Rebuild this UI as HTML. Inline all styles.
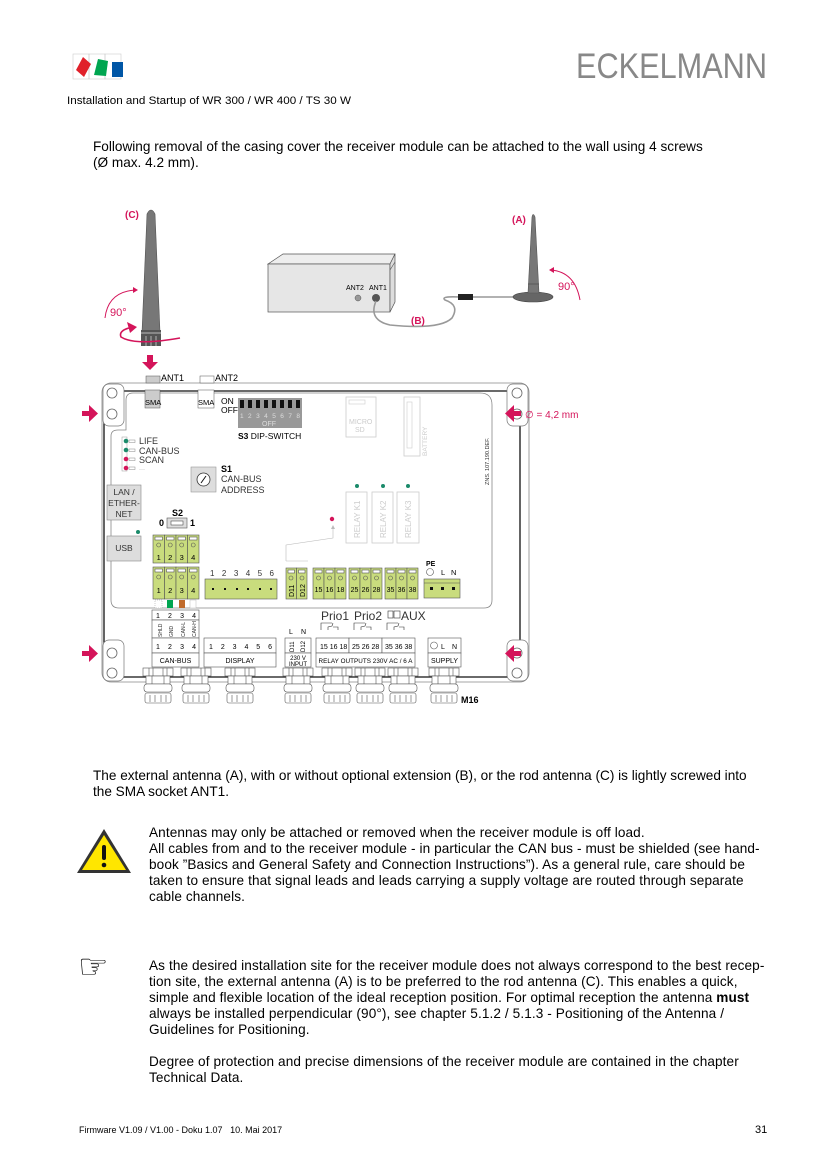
<!DOCTYPE html>
<html><head><meta charset="utf-8"><style>
html,body{margin:0;padding:0;background:#fff}
body{width:827px;height:1169px;position:relative;overflow:hidden;font-family:"Liberation Sans",Arial,sans-serif;color:#000}
.t{position:absolute;font-size:13.6px;line-height:16px;white-space:nowrap}
svg{position:absolute;left:0;top:0}
</style></head><body>
<svg width="827" height="1169" viewBox="0 0 827 1169" font-family="Liberation Sans, Arial, sans-serif">
<defs>
<g id="gl" fill="#fff" stroke="#555" stroke-width="0.6"><rect x="-15" y="668" width="30" height="8"/><rect x="-12" y="676" width="24" height="8"/><rect x="-14" y="684" width="28" height="8" rx="3"/><rect x="-13" y="693" width="26" height="10" rx="2"/>
<path d="M-9,668 v8 M-5,668 v8 M5,668 v8 M9,668 v8 M-6,676 v8 M6,676 v8 M-8,695 v7 M-3,695 v7 M3,695 v7 M8,695 v7" fill="none"/></g>
</defs>
<!-- logo -->
<rect x="73" y="54" width="16" height="25" fill="none" stroke="#ccc" stroke-width="0.6"/>
<rect x="89" y="54" width="16" height="25" fill="none" stroke="#ccc" stroke-width="0.6"/>
<rect x="105" y="54" width="16" height="25" fill="none" stroke="#ccc" stroke-width="0.6"/>
<polygon points="83,57 91,64 84,77 76,70" fill="#e0202a"/>
<polygon points="98,59 108,61 106,76 94,75" fill="#00a550"/>
<rect x="112" y="62" width="11" height="15" fill="#0056a6"/>
<text x="576" y="78" font-size="35" fill="#888" textLength="191" lengthAdjust="spacingAndGlyphs">ECKELMANN</text>
<text x="67" y="104" font-size="11" textLength="284" lengthAdjust="spacingAndGlyphs">Installation and Startup of WR 300 / WR 400 / TS 30 W</text>

<!-- rod antenna C -->
<path d="M147,214 Q151,206 155,214 L160,332 L142,332 Z" fill="#777" stroke="#555" stroke-width="0.6"/>
<rect x="141" y="330" width="20" height="16" fill="#555"/>
<g stroke="#ddd" stroke-width="0.7"><line x1="141" y1="333" x2="161" y2="333"/><line x1="146" y1="336" x2="146" y2="346"/><line x1="151" y1="336" x2="151" y2="346"/><line x1="156" y1="336" x2="156" y2="346"/></g>
<text x="125" y="218" font-size="10" font-weight="bold" fill="#d4145a">(C)</text>
<path d="M105,318 Q108,292 135,290" fill="none" stroke="#d4145a" stroke-width="1"/>
<polygon points="138,290 133,287 133,293" fill="#d4145a"/>
<text x="110" y="316" font-size="11" fill="#d4145a">90°</text>
<path d="M133,327 Q118,330 121,337 Q135,346 180,338" fill="none" stroke="#d4145a" stroke-width="1.6"/>
<polygon points="137,327 127,322 130,333" fill="#d4145a"/>
<rect x="147" y="355" width="6" height="8" fill="#d4145a"/>
<polygon points="142,362 158,362 150,370" fill="#d4145a"/>

<!-- box -->
<polygon points="268,264 283,254 395,254 390,264" fill="#eee" stroke="#555" stroke-width="0.7"/>
<rect x="268" y="264" width="122" height="48" fill="#e6e6e6" stroke="#555" stroke-width="0.7"/>
<polygon points="390,264 395,254 395,302 390,312" fill="#ddd" stroke="#555" stroke-width="0.7"/>
<line x1="390" y1="270" x2="395" y2="262" stroke="#555" stroke-width="0.6"/>
<text x="346" y="290" font-size="7">ANT2</text><text x="369" y="290" font-size="7">ANT1</text>
<circle cx="358" cy="298" r="3" fill="#999" stroke="#555" stroke-width="0.5"/>
<circle cx="376" cy="298" r="4" fill="#555"/>
<path d="M376,301 Q368,320 390,325 Q440,330 452,318 Q460,305 445,300 Q440,296 460,297" fill="none" stroke="#999" stroke-width="1.6"/>
<rect x="458" y="294" width="15" height="6" fill="#222"/>
<line x1="473" y1="297" x2="514" y2="297" stroke="#999" stroke-width="1.6"/>
<text x="411" y="324" font-size="10" font-weight="bold" fill="#d4145a">(B)</text>
<!-- antenna A -->
<ellipse cx="533" cy="297" rx="20" ry="5" fill="#666" stroke="#444" stroke-width="0.6"/>
<path d="M532,217 Q533,212 535,217 L539,293 L528,293 Z" fill="#777" stroke="#555" stroke-width="0.6"/>
<line x1="528" y1="284" x2="539" y2="284" stroke="#444" stroke-width="0.6"/>
<text x="512" y="223" font-size="10" font-weight="bold" fill="#d4145a">(A)</text>
<path d="M551,270 Q575,272 580,300" fill="none" stroke="#d4145a" stroke-width="1"/>
<polygon points="549,270 554,267 554,273" fill="#d4145a"/>
<text x="558" y="290" font-size="11" fill="#d4145a">90°</text>

<!-- housing -->
<rect x="102" y="383" width="427" height="299" rx="9" fill="#fff" stroke="#888" stroke-width="0.8"/>
<path d="M125,391 L506,391 Q520,391 520,405 L520,664 Q520,677 506,677 L117,677 Q104,677 104,664 L104,405 Q104,391 118,391 Z" fill="none" stroke="#111" stroke-width="1.3"/>
<g fill="#fff" stroke="#777" stroke-width="0.7">
<rect x="103" y="384" width="21" height="42" rx="6"/><rect x="507" y="384" width="21" height="42" rx="6"/>
<rect x="103" y="640" width="21" height="41" rx="6"/><rect x="507" y="640" width="21" height="41" rx="6"/>
</g>
<g fill="none" stroke="#666" stroke-width="0.8">
<circle cx="112" cy="393" r="5"/><circle cx="112" cy="414" r="5"/><circle cx="517" cy="393" r="5"/><circle cx="517" cy="414" r="5"/>
<circle cx="112" cy="653" r="5"/><circle cx="112" cy="673" r="5"/><circle cx="517" cy="653" r="5"/><circle cx="517" cy="673" r="5"/>
</g>
<!-- pcb -->
<path d="M133,393 L480,393 Q492,393 492,405 L492,600 Q492,608 484,608 L119,608 Q111,608 111,600 L111,436 Q111,430 118,430 L126,430 L126,400 Q126,393 133,393 Z" fill="none" stroke="#888" stroke-width="0.8"/>
<!-- pink arrows -->
<g fill="#d4145a">
<rect x="82" y="411" width="8" height="5"/><polygon points="89,405 98,413.5 89,422"/>
<rect x="82" y="651" width="8" height="5"/><polygon points="89,645 98,653.5 89,662"/>
<rect x="513" y="411" width="8" height="5"/><polygon points="514,405 505,413.5 514,422"/>
<rect x="513" y="651" width="8" height="5"/><polygon points="514,645 505,653.5 514,662"/>
</g>
<text x="525" y="418" font-size="10" fill="#d4145a">∅ = 4,2 mm</text>

<!-- ANT1/ANT2 -->
<rect x="146" y="376" width="14" height="7" fill="#ccc" stroke="#555" stroke-width="0.5"/>
<text x="161" y="381" font-size="9">ANT1</text>
<rect x="200" y="376" width="14" height="7" fill="#fff" stroke="#555" stroke-width="0.5"/>
<text x="215" y="381" font-size="9">ANT2</text>
<rect x="145" y="390" width="15" height="18" fill="#ccc" stroke="#555" stroke-width="0.5"/>
<text x="145" y="405" font-size="7.5">SMA</text>
<rect x="198" y="390" width="16" height="18" fill="#fff" stroke="#555" stroke-width="0.5"/>
<text x="198" y="405" font-size="7.5">SMA</text>
<text x="221" y="404" font-size="8.5">ON</text><text x="221" y="413" font-size="8.5">OFF</text>
<rect x="238" y="398" width="64" height="30" fill="#999"/>
<g fill="#111"><rect x="240" y="400" width="4" height="8"/><rect x="248" y="400" width="4" height="8"/><rect x="256" y="400" width="4" height="8"/><rect x="264" y="400" width="4" height="8"/><rect x="272" y="400" width="4" height="8"/><rect x="280" y="400" width="4" height="8"/><rect x="288" y="400" width="4" height="8"/><rect x="296" y="400" width="4" height="8"/></g>
<text x="240" y="418" font-size="6.5" fill="#ddd" textLength="60">1 2 3 4 5 6 7 8</text>
<text x="262" y="426" font-size="7" fill="#ddd">OFF</text>
<text x="238" y="439" font-size="8.5"><tspan font-weight="bold">S3</tspan> DIP-SWITCH</text>
<rect x="346" y="397" width="30" height="40" fill="#fff" stroke="#ccc" stroke-width="0.8"/>
<rect x="349" y="400" width="16" height="4" fill="none" stroke="#ccc" stroke-width="0.6"/>
<text x="349" y="424" font-size="7" fill="#ccc">MICRO</text><text x="355" y="432" font-size="7" fill="#ccc">SD</text>
<rect x="404" y="397" width="16" height="59" fill="#fff" stroke="#ccc" stroke-width="0.8"/>
<rect x="407" y="402" width="5" height="46" fill="none" stroke="#ccc" stroke-width="0.6"/>
<text transform="translate(427,456) rotate(-90)" font-size="6.5" fill="#ccc">BATTERY</text>
<text transform="translate(489,485) rotate(-90)" font-size="5.5" fill="#333">ZNS. 107.190.DEF.</text>

<!-- LEDs -->
<rect x="122" y="437" width="5" height="34" fill="none" stroke="#999" stroke-width="0.5"/>
<circle cx="126" cy="441" r="2.3" fill="#1a8a6a"/><circle cx="126" cy="450" r="2.3" fill="#1a8a6a"/>
<circle cx="126" cy="459" r="2.3" fill="#d4145a"/><circle cx="126" cy="468" r="2.3" fill="#d4145a"/>
<g fill="none" stroke="#888" stroke-width="0.5"><rect x="129" y="440" width="6" height="2.5"/><rect x="129" y="449" width="6" height="2.5"/><rect x="129" y="458" width="6" height="2.5"/><rect x="129" y="467" width="6" height="2.5"/></g>
<text x="139" y="444" font-size="9" fill="#333">LIFE</text>
<text x="139" y="454" font-size="9" fill="#333">CAN-BUS</text>
<text x="139" y="463" font-size="9" fill="#333">SCAN</text>
<text x="139" y="471" font-size="6" fill="#ccc">---</text>
<!-- S1 -->
<rect x="191" y="467" width="25" height="25" fill="#ddd" stroke="#999" stroke-width="0.6"/>
<circle cx="203.5" cy="479.5" r="6.5" fill="#fff" stroke="#333" stroke-width="0.8"/>
<line x1="201" y1="483" x2="206" y2="476" stroke="#111" stroke-width="1"/>
<text x="221" y="472" font-size="9" font-weight="bold">S1</text>
<text x="221" y="482" font-size="9" fill="#333">CAN-BUS</text>
<text x="221" y="493" font-size="9" fill="#333">ADDRESS</text>
<!-- LAN/USB -->
<rect x="107" y="485" width="34" height="35" fill="#ddd" stroke="#888" stroke-width="0.6"/>
<text x="124" y="495" font-size="8.5" text-anchor="middle" fill="#333">LAN /</text>
<text x="124" y="506" font-size="8.5" text-anchor="middle" fill="#333">ETHER-</text>
<text x="124" y="517" font-size="8.5" text-anchor="middle" fill="#333">NET</text>
<rect x="107" y="536" width="34" height="25" fill="#ddd" stroke="#888" stroke-width="0.6"/>
<text x="124" y="551" font-size="8.5" text-anchor="middle" fill="#333">USB</text>
<circle cx="138" cy="532" r="2" fill="#1a8a6a"/>
<!-- S2 -->
<text x="172" y="516" font-size="9" font-weight="bold">S2</text>
<text x="159" y="526" font-size="9" font-weight="bold">0</text>
<rect x="167" y="518" width="20" height="10" fill="#ddd" stroke="#555" stroke-width="0.6"/>
<rect x="171" y="521" width="12" height="4" fill="#fff" stroke="#333" stroke-width="0.5"/>
<text x="190" y="526" font-size="9" font-weight="bold">1</text>

<!-- terminal blocks -->
<g stroke="#555" stroke-width="0.6">
<g fill="#c9dc7d">
<rect x="153" y="535" width="11.5" height="28"/><rect x="164.5" y="535" width="11.5" height="28"/><rect x="176" y="535" width="11.5" height="28"/><rect x="187.5" y="535" width="11.5" height="28"/>
<rect x="153" y="567" width="11.5" height="32"/><rect x="164.5" y="567" width="11.5" height="32"/><rect x="176" y="567" width="11.5" height="32"/><rect x="187.5" y="567" width="11.5" height="32"/>
<rect x="286" y="568" width="10.5" height="31"/><rect x="296.5" y="568" width="10.5" height="31"/>
<rect x="313" y="568" width="11" height="31"/><rect x="324" y="568" width="11" height="31"/><rect x="335" y="568" width="11" height="31"/>
<rect x="349" y="568" width="11" height="31"/><rect x="360" y="568" width="11" height="31"/><rect x="371" y="568" width="11" height="31"/>
<rect x="385" y="568" width="11" height="31"/><rect x="396" y="568" width="11" height="31"/><rect x="407" y="568" width="11" height="31"/>
<rect x="205" y="579" width="72" height="20"/>
<rect x="424" y="579" width="36" height="19"/>
</g>
<g fill="#fff">
<rect x="155" y="537" width="7.5" height="3"/><rect x="166.5" y="537" width="7.5" height="3"/><rect x="178" y="537" width="7.5" height="3"/><rect x="189.5" y="537" width="7.5" height="3"/>
<rect x="155" y="569" width="7.5" height="3"/><rect x="166.5" y="569" width="7.5" height="3"/><rect x="178" y="569" width="7.5" height="3"/><rect x="189.5" y="569" width="7.5" height="3"/>
<rect x="288" y="570" width="6.5" height="3"/><rect x="298.5" y="570" width="6.5" height="3"/>
<rect x="315" y="570" width="7" height="3"/><rect x="326" y="570" width="7" height="3"/><rect x="337" y="570" width="7" height="3"/>
<rect x="351" y="570" width="7" height="3"/><rect x="362" y="570" width="7" height="3"/><rect x="373" y="570" width="7" height="3"/>
<rect x="387" y="570" width="7" height="3"/><rect x="398" y="570" width="7" height="3"/><rect x="409" y="570" width="7" height="3"/>
</g>
<g fill="none">
<circle cx="158.7" cy="545" r="2"/><circle cx="170.2" cy="545" r="2"/><circle cx="181.7" cy="545" r="2"/><circle cx="193.2" cy="545" r="2"/>
<circle cx="158.7" cy="577" r="2"/><circle cx="170.2" cy="577" r="2"/><circle cx="181.7" cy="577" r="2"/><circle cx="193.2" cy="577" r="2"/>
<circle cx="291" cy="578" r="2"/><circle cx="302" cy="578" r="2"/>
<circle cx="318.5" cy="578" r="2"/><circle cx="329.5" cy="578" r="2"/><circle cx="340.5" cy="578" r="2"/>
<circle cx="354.5" cy="578" r="2"/><circle cx="365.5" cy="578" r="2"/><circle cx="376.5" cy="578" r="2"/>
<circle cx="390.5" cy="578" r="2"/><circle cx="401.5" cy="578" r="2"/><circle cx="412.5" cy="578" r="2"/>
</g>
</g>
<g font-size="7.5" text-anchor="middle">
<text x="158.7" y="560">1</text><text x="170.2" y="560">2</text><text x="181.7" y="560">3</text><text x="193.2" y="560">4</text>
<text x="158.7" y="593">1</text><text x="170.2" y="593">2</text><text x="181.7" y="593">3</text><text x="193.2" y="593">4</text>
<text x="318.5" y="592" font-size="7">15</text><text x="329.5" y="592" font-size="7">16</text><text x="340.5" y="592" font-size="7">18</text>
<text x="354.5" y="592" font-size="7">25</text><text x="365.5" y="592" font-size="7">26</text><text x="376.5" y="592" font-size="7">28</text>
<text x="390.5" y="592" font-size="7">35</text><text x="401.5" y="592" font-size="7">36</text><text x="412.5" y="592" font-size="7">38</text>
</g>
<text transform="translate(294,597) rotate(-90)" font-size="7">D11</text>
<text transform="translate(305,597) rotate(-90)" font-size="7">D12</text>
<text x="210" y="576" font-size="8" fill="#333" textLength="64">1  2  3  4  5  6</text>
<g fill="#111"><rect x="212" y="588" width="2" height="2"/><rect x="224" y="588" width="2" height="2"/><rect x="236" y="588" width="2" height="2"/><rect x="247" y="588" width="2" height="2"/><rect x="259" y="588" width="2" height="2"/><rect x="270" y="588" width="2" height="2"/>
<rect x="430" y="587" width="3" height="3"/><rect x="441" y="587" width="3" height="3"/><rect x="452" y="587" width="3" height="3"/></g>
<line x1="424" y1="583" x2="460" y2="583" stroke="#555" stroke-width="0.5"/>
<text x="426" y="566" font-size="7" font-weight="bold">PE</text>
<circle cx="430" cy="572" r="3.5" fill="none" stroke="#555" stroke-width="0.6"/>
<text x="441" y="575" font-size="7.5">L</text><text x="451" y="575" font-size="7.5">N</text>
<!-- relays -->
<g fill="#fff" stroke="#ccc" stroke-width="0.8"><rect x="346" y="492" width="21" height="51"/><rect x="372" y="492" width="21" height="51"/><rect x="397" y="492" width="22" height="51"/></g>
<g font-size="8" fill="#ccc"><text transform="translate(360,538) rotate(-90)">RELAY K1</text><text transform="translate(386,538) rotate(-90)">RELAY K2</text><text transform="translate(411,538) rotate(-90)">RELAY K3</text></g>
<g fill="#1a8a6a"><circle cx="357" cy="486" r="2"/><circle cx="383" cy="486" r="2"/><circle cx="408" cy="486" r="2"/></g>
<circle cx="332" cy="519" r="2.2" fill="#d4145a"/>
<path d="M286,561 L286,545 L333,538 L333,528" fill="none" stroke="#bbb" stroke-width="0.6"/>
<line x1="286" y1="561" x2="308" y2="561" stroke="#bbb" stroke-width="0.6"/>
<polygon points="331,529 335,529 333,525" fill="#bbb"/>
<!-- colored strips -->
<rect x="155" y="600" width="7" height="8" fill="#fff" stroke="#999" stroke-width="0.5" stroke-dasharray="1,1"/>
<rect x="167" y="600" width="6" height="8" fill="#00a550"/>
<rect x="179" y="600" width="6" height="8" fill="#c06a2b"/>
<rect x="190" y="600" width="6" height="8" fill="#fff" stroke="#bbb" stroke-width="0.5"/>

<!-- bottom tables -->
<g fill="#fff" stroke="#555" stroke-width="0.6">
<rect x="152" y="610" width="47" height="10"/><rect x="152" y="620" width="47" height="18"/><rect x="152" y="638" width="47" height="15"/><rect x="152" y="653" width="47" height="14"/>
<rect x="204" y="638" width="72" height="15"/><rect x="204" y="653" width="72" height="14"/>
<rect x="285" y="638" width="26" height="15"/><rect x="285" y="653" width="26" height="14"/>
<rect x="316" y="638" width="33" height="15"/><rect x="349" y="638" width="33" height="15"/><rect x="382" y="638" width="33" height="15"/><rect x="316" y="653" width="99" height="14"/>
<rect x="428" y="638" width="33" height="15"/><rect x="428" y="653" width="33" height="14"/>
</g>
<text x="156" y="618" font-size="7" textLength="40">1  2  3  4</text>
<g font-size="5" fill="#333"><text transform="translate(162,637) rotate(-90)">SHLD</text><text transform="translate(173,637) rotate(-90)">GND</text><text transform="translate(185,637) rotate(-90)">CAN-L</text><text transform="translate(196,637) rotate(-90)">CAN-H</text></g>
<text x="156" y="649" font-size="7" textLength="40">1  2  3  4</text>
<text x="175.5" y="663" font-size="7" text-anchor="middle">CAN-BUS</text>
<text x="209" y="649" font-size="7" textLength="63">1  2  3  4  5  6</text>
<text x="240" y="663" font-size="7" text-anchor="middle">DISPLAY</text>
<text x="289" y="634" font-size="7">L</text><text x="301" y="634" font-size="7">N</text>
<text transform="translate(294,652) rotate(-90)" font-size="6">D11</text><text transform="translate(305,652) rotate(-90)" font-size="6">D12</text>
<text x="298" y="660" font-size="6" text-anchor="middle">230 V</text><text x="298" y="666" font-size="6" text-anchor="middle">INPUT</text>
<text x="320" y="649" font-size="7">15 16 18</text><text x="352" y="649" font-size="7">25 26 28</text><text x="385" y="649" font-size="7">35 36 38</text>
<text x="365.5" y="663" font-size="6.3" text-anchor="middle" textLength="94">RELAY OUTPUTS 230V AC / 6 A</text>
<circle cx="434" cy="645.5" r="3.5" fill="none" stroke="#555" stroke-width="0.6"/>
<text x="441" y="649" font-size="7">L</text><text x="452" y="649" font-size="7">N</text>
<text x="444.5" y="663" font-size="7" text-anchor="middle">SUPPLY</text>
<text x="321" y="620" font-size="12" fill="#333">Prio1</text><text x="354" y="620" font-size="12" fill="#333">Prio2</text>
<rect x="388" y="611" width="5" height="7" fill="none" stroke="#333" stroke-width="0.6"/><rect x="394" y="611" width="6" height="7" fill="none" stroke="#333" stroke-width="0.6"/>
<text x="401" y="620" font-size="12" fill="#333">AUX</text>
<g fill="none" stroke="#333" stroke-width="0.6">
<path d="M321,630 L321,623 L332,623 M328,630 L328,627 L332,626 L333,623 M333,627 L338,627 L338,630"/>
<path d="M354,630 L354,623 L365,623 M361,630 L361,627 L365,626 L366,623 M366,627 L371,627 L371,630"/>
<path d="M387,630 L387,623 L398,623 M394,630 L394,627 L398,626 L399,623 M399,627 L404,627 L404,630"/>
</g>
<!-- glands -->
<use href="#gl" x="158"/><use href="#gl" x="196"/><use href="#gl" x="240"/><use href="#gl" x="298"/><use href="#gl" x="337"/><use href="#gl" x="370"/><use href="#gl" x="403"/><use href="#gl" x="444"/>
<text x="461" y="703" font-size="9" font-weight="bold">M16</text>

<!-- warning icon -->
<polygon points="104,829 131,873 77,873" fill="#333"/>
<polygon points="104,835 126,870 82,870" fill="#ffe600"/>
<rect x="102" y="845" width="4" height="15" rx="2" fill="#111"/>
<circle cx="104" cy="865" r="2.3" fill="#111"/>
<!-- hand -->
<text x="78" y="978" font-size="34" font-weight="bold" font-family="DejaVu Sans, sans-serif">☞</text>
</svg>

<div class="t" style="left:93px;top:139px">Following removal of the casing cover the receiver module can be attached to the wall using 4 screws<br>(Ø max. 4.2 mm).</div>
<div class="t" style="left:93px;top:768px">The external antenna (A), with or without optional extension (B), or the rod antenna (C) is lightly screwed into<br>the SMA socket ANT1.</div>
<div class="t" style="left:149px;top:825px;letter-spacing:0.1px">Antennas may only be attached or removed when the receiver module is off load.<br>All cables from and to the receiver module - in particular the CAN bus - must be shielded (see hand-<br>book ”Basics and General Safety and Connection Instructions”). As a general rule, care should be<br>taken to ensure that signal leads and leads carrying a supply voltage are routed through separate<br>cable channels.</div>
<div class="t" style="left:149px;top:958px;letter-spacing:0.1px">As the desired installation site for the receiver module does not always correspond to the best recep-<br>tion site, the external antenna (A) is to be preferred to the rod antenna (C). This enables a quick,<br>simple and flexible location of the ideal reception position. For optimal reception the antenna <b>must</b><br>always be installed perpendicular (90°), see chapter 5.1.2 / 5.1.3 - Positioning of the Antenna /<br>Guidelines for Positioning.<br><br>Degree of protection and precise dimensions of the receiver module are contained in the chapter<br>Technical Data.</div>
<div class="t" style="left:79px;top:1125px;font-size:9px;line-height:11px">Firmware V1.09 / V1.00 - Doku 1.07 &nbsp; 10. Mai 2017</div>
<div class="t" style="left:755px;top:1124px;font-size:11px;line-height:13px">31</div>
</body></html>
